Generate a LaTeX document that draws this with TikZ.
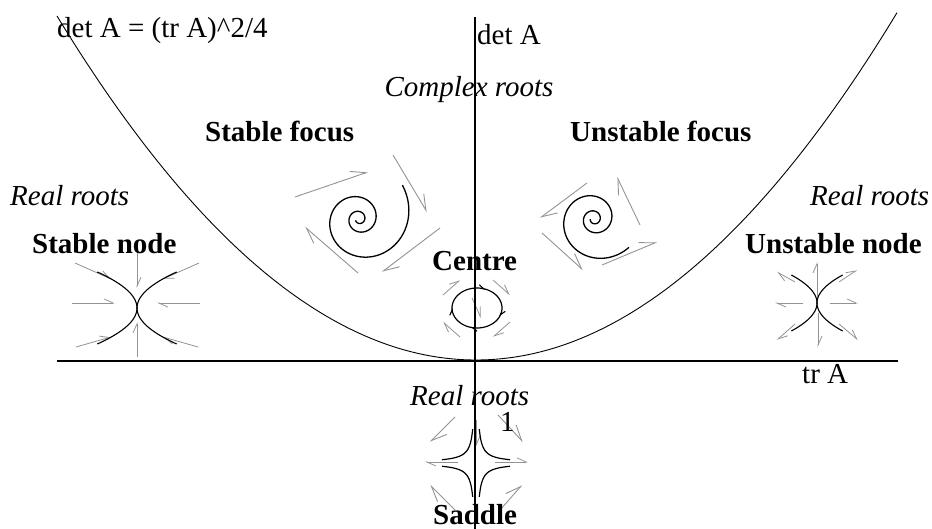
\documentclass[tikz,border=0pt]{standalone}
\usepackage{fontspec}
\setmainfont{Liberation Serif}
\usetikzlibrary{arrows.meta}
\begin{document}
\begin{tikzpicture}[x=1pt,y=-1pt,
  lbl/.style={anchor=base west, inner sep=0pt, font=\fontsize{29}{32}\selectfont},
  blbl/.style={anchor=base west, inner sep=0pt, font=\fontsize{29}{32}\selectfont\bfseries},
  ilbl/.style={anchor=base west, inner sep=0pt, font=\fontsize{29}{32}\selectfont\itshape},
  harp/.style={draw=gray!85, line width=0.9pt, -{Straight Barb[left,length=15pt,width=13pt]}},
  sharp/.style={draw=gray!85, line width=0.8pt, -{Straight Barb[left,length=9pt,width=8pt]}},
  tharp/.style={draw=black, line width=1.1pt, -{Straight Barb[left,length=5pt,width=6pt]}},
  traj/.style={draw=black, line width=1.3pt},
  axisline/.style={draw=black, line width=1.2pt}]
\useasboundingbox (0,0) rectangle (932,529);

% parabola det A = (tr A)^2/4
\draw[line width=0.9pt] plot[domain=57:897, samples=150, smooth] (\x, {360-(0.04427*(\x-476))^2});

% ---- Stable focus ----
\draw[harp] (295,197) -- (368,172);
\draw[harp] (393,155) -- (427,212);
\draw[harp] (440,228) -- (382,272);
\draw[harp] (358,273) -- (305,227);
\draw[traj] plot[domain=0:16, samples=300, smooth, variable=\t]
  ({359+55*exp(-0.17*\t)*cos(-38+\t*57.2958)}, {219+55*exp(-0.17*\t)*sin(-38+\t*57.2958)});

% ---- Unstable focus ----
\draw[harp] (587,183) -- (540,218);
\draw[harp] (640,225) -- (617,177);
\draw[harp] (602,265) -- (657,242);
\draw[harp] (542,233) -- (583,270);
\draw[traj] plot[domain=0:15, samples=300, smooth, variable=\t]
  ({594+45*exp(-0.167*\t)*cos(39+\t*57.2958)}, {219+45*exp(-0.167*\t)*sin(39+\t*57.2958)});

% ---- Stable node ----
\draw[sharp] (137,252) -- (137,288);
\draw[sharp] (137,357) -- (137,322);
\draw[sharp] (72,303) -- (115,303);
\draw[sharp] (200,303) -- (157,303);
\draw[sharp] (75,263) -- (111,279);
\draw[sharp] (76,347) -- (111,337);
\draw[sharp] (199,263) -- (163,279);
\draw[sharp] (198,347) -- (163,337);
\draw[traj, line width=1.1pt] plot[domain=-36:36, samples=50, smooth, variable=\d] ({137-0.0306*\d*\d}, {308+\d});
\draw[traj, line width=1.1pt] plot[domain=-36:36, samples=50, smooth, variable=\d] ({137+0.0306*\d*\d}, {308+\d});

% ---- Unstable node ----
\draw[sharp] (817,297) -- (817,262);
\draw[sharp] (818,313) -- (818,347);
\draw[sharp] (803,303) -- (775,303);
\draw[sharp] (830,303) -- (858,303);
\draw[sharp] (795,282) -- (777,272);
\draw[sharp] (795,324) -- (777,340);
\draw[sharp] (839,282) -- (857,270);
\draw[sharp] (839,324) -- (858,340);
\draw[traj, line width=1.1pt] plot[domain=-28:28, samples=50, smooth, variable=\d] ({817-0.0327*\d*\d}, {303+\d});
\draw[traj, line width=1.1pt] plot[domain=-28:28, samples=50, smooth, variable=\d] ({817+0.0327*\d*\d}, {303+\d});

% ---- Centre ----
\draw[sharp] (443,295) -- (460,280);
\draw[sharp] (493,280) -- (510,295);
\draw[sharp] (510,322) -- (493,337);
\draw[sharp] (460,337) -- (443,322);
\draw[sharp] (472,298) -- (481,318);
\draw[traj, line width=1.2pt] plot[domain=0:355, samples=72, smooth cycle, variable=\a] ({477+25*cos(\a)}, {308+20*sin(\a)});
\foreach \a in {-70,25,105,180}
  \draw[tharp] ({477+25*cos(\a-10)}, {308+20*sin(\a-10)}) -- ({477+25*cos(\a)}, {308+20*sin(\a)});

% ---- Saddle ----
\draw[sharp] (476,420) -- (476,447);
\draw[harp] (455,417) -- (430,442);
\draw[harp] (498,415) -- (523,442);
\draw[sharp] (458,462) -- (425,462);
\draw[sharp] (495,462) -- (528,462);
\draw[harp] (455,510) -- (430,485);
\draw[harp] (500,510) -- (522,485);
\draw[traj, line width=1.2pt] plot[domain=3.3:34, samples=60, smooth, variable=\t] ({476-\t}, {463-112/\t});
\draw[traj, line width=1.2pt] plot[domain=3.3:34, samples=60, smooth, variable=\t] ({476+\t}, {463-112/\t});
\draw[traj, line width=1.2pt] plot[domain=3.3:34, samples=60, smooth, variable=\t] ({476-\t}, {463+112/\t});
\draw[traj, line width=1.2pt] plot[domain=3.3:34, samples=60, smooth, variable=\t] ({476+\t}, {463+112/\t});

% axes
\coordinate (xl) at (57,361);
\coordinate (xr) at (898,361);
\coordinate (yt) at (475,17);
\coordinate (yb) at (475,529);
\draw[axisline] (xl) -- (xr);
\draw[axisline] (yt) -- (yb);

% labels
\node[lbl] (eq) at (57,38) {det A = (tr A)\textasciicircum 2/4};
\node[lbl] (detA) at (477,45) {det A};
\node[ilbl, anchor=base] (cr) at (469,97) {Complex roots};
\node[blbl] (sf) at (205,142) {Stable focus};
\node[blbl] (uf) at (570,142) {Unstable focus};
\node[ilbl] (rrl) at (10,206) {Real roots};
\node[ilbl] (rrr) at (810,206) {Real roots};
\node[blbl] (sn) at (32,254) {Stable node};
\node[blbl] (un) at (745,254) {Unstable node};
\node[blbl] (ce) at (432,271) {Centre};
\node[lbl] (tra) at (802,383) {tr A};
\node[ilbl] (rrb) at (410,406) {Real roots};
\node[lbl] (one) at (500,431) {1};
\node[blbl] (sd) at (433,524) {Saddle};
\end{tikzpicture}
\end{document}
